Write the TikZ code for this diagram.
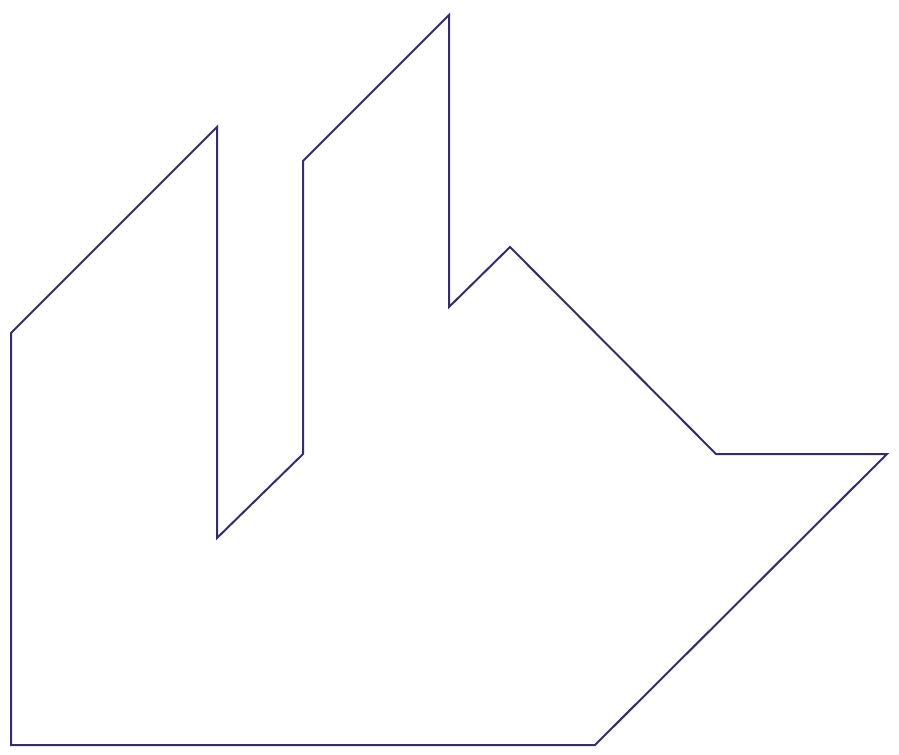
\documentclass[tikz,border=0pt]{standalone}
\usepackage{tikz}

\tikzset{every picture/.style={line width=0.75pt}}

\begin{document}
\begin{tikzpicture}[x=0.75pt,y=0.75pt,yscale=-1,xscale=1]
%set diagram left start at 0, and has height of 754
\useasboundingbox (0,0) rectangle (899,754);
%Shape: Polygon [id:dp4518822730195512] 
\draw [color={rgb, 255:red, 52; green, 45; blue, 108 }  ,draw opacity=1 ][line width=1.5]  (11,745) -- (11,333) -- (217,127) -- (217,538) -- (303,454) -- (303,161) -- (449,15) -- (449,307) -- (510,247) -- (716,454) -- (887,454) -- (595,745) -- cycle ;

\end{tikzpicture}
\end{document}
